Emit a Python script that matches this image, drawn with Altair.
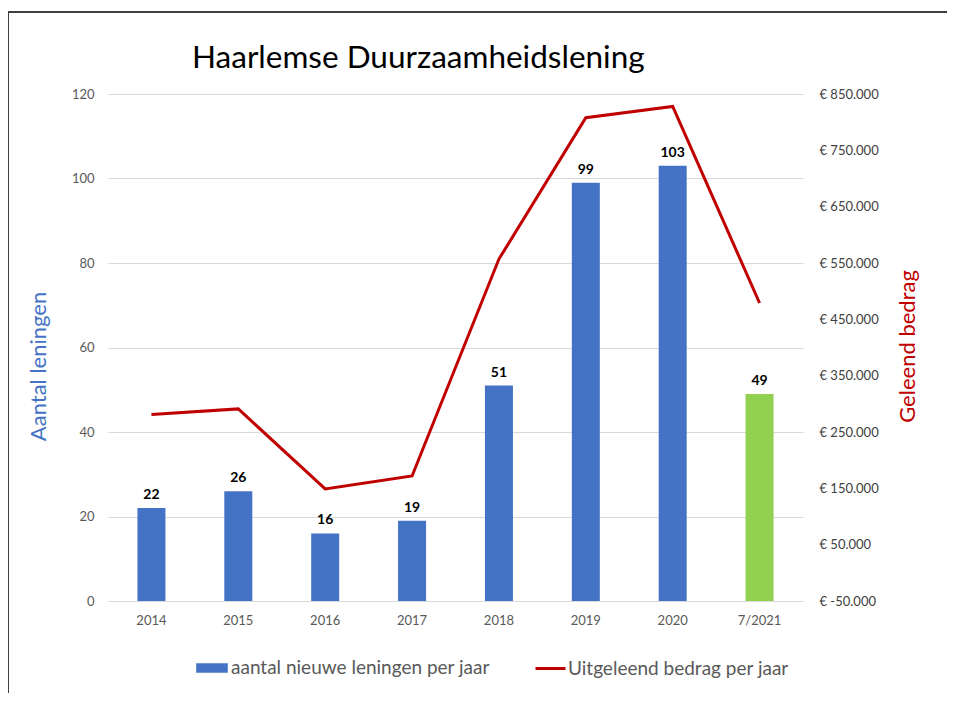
import altair as alt
import pandas as pd

jaren = ["2014", "2015", "2016", "2017", "2018", "2019", "2020", "7/2021"]
aantal = [22, 26, 16, 19, 51, 99, 103, 49]
bedrag = [281000, 291000, 149000, 172000, 557000, 808000, 828000, 479000]

serie_bar = "aantal nieuwe leningen per jaar"
serie_lijn = "Uitgeleend bedrag per jaar"

bar_df = pd.DataFrame({"jaar": jaren, "aantal": aantal, "serie": serie_bar})
lijn_df = pd.DataFrame({"jaar": jaren, "bedrag": bedrag, "serie": serie_lijn})

FONT = "Lato"
W, H = 695, 507

x_enc = alt.X("jaar:N", sort=jaren, title=None,
              axis=alt.Axis(labelAngle=0, labelFontSize=13, labelColor="#595959",
                            labelFont=FONT, ticks=False, domainColor="#d9d9d9",
                            labelPadding=13, grid=False))

legend_bar = alt.Legend(
    orient="none", legendX=88, legendY=558, title=None,
    labelFontSize=19, labelColor="#595959", labelFont=FONT, symbolSize=1000,
    symbolType="M-1,-0.3H1V0.3H-1Z", symbolStrokeWidth=0, labelOffset=3,
    labelLimit=400, symbolOpacity=1,
)
legend_lijn = alt.Legend(
    orient="none", legendX=426, legendY=558, title=None,
    labelFontSize=19, labelColor="#595959", labelFont=FONT, symbolSize=900,
    symbolType="stroke", symbolStrokeWidth=3, labelOffset=1, labelLimit=400,
    symbolOpacity=1,
)

bars = alt.Chart(bar_df).mark_bar(size=28).encode(
    x=x_enc,
    y=alt.Y("aantal:Q", scale=alt.Scale(domain=[0, 120]), title="Aantal leningen",
            axis=alt.Axis(orient="left", values=[0, 20, 40, 60, 80, 100, 120],
                          labelFontSize=13, labelColor="#595959", labelFont=FONT,
                          ticks=False, domain=False, labelPadding=14,
                          gridColor="#d9d9d9", titleColor="#4472C4", titleFontSize=22,
                          titleFont=FONT, titleFontWeight="normal",
                          titleX=-70, titleY=272, titleAngle=270,
                          titleAlign="center", titleBaseline="middle")),
    fill=alt.condition("datum.jaar === '7/2021'", alt.value("#92D050"),
                       alt.Fill("serie:N", scale=alt.Scale(domain=[serie_bar], range=["#4472C4"]),
                                legend=legend_bar)),
)

labels = alt.Chart(bar_df).mark_text(dy=-9, baseline="alphabetic", fontSize=14,
                                     fontWeight="bold", font=FONT, color="#000000").encode(
    x=alt.X("jaar:N", sort=jaren),
    y=alt.Y("aantal:Q"),
    text="aantal:Q",
)

lijn = alt.Chart(lijn_df).mark_line(strokeWidth=3).encode(
    x=alt.X("jaar:N", sort=jaren),
    y=alt.Y("bedrag:Q", scale=alt.Scale(domain=[-50000, 850000]), title="Geleend bedrag",
            axis=alt.Axis(orient="right",
                          values=[-50000, 50000, 150000, 250000, 350000, 450000, 550000, 650000, 750000, 850000],
                          labelExpr="'€ ' + (datum.value < 0 ? '-' : '') + replace(format(abs(datum.value), ','), ',', '.')",
                          labelFontSize=13, labelColor="#404040", labelFont=FONT,
                          ticks=False, domain=False, grid=False, labelPadding=16,
                          titleColor="#C00000", titleFontSize=22, titleFont=FONT,
                          titleFontWeight="normal", titleX=104, titleY=252, titleAngle=270,
                          titleAlign="center", titleBaseline="middle")),
    stroke=alt.Stroke("serie:N", scale=alt.Scale(domain=[serie_lijn], range=["#C00000"]),
                      legend=legend_lijn),
)

rand_df = pd.DataFrame({"k": [0]})
rand_links = alt.Chart(rand_df).mark_rule(color="#404040", strokeWidth=2).encode(
    x=alt.value(-100), y=alt.value(-82), y2=alt.value(700))
rand_boven = alt.Chart(rand_df).mark_rule(color="#404040", strokeWidth=2).encode(
    x=alt.value(-101), x2=alt.value(900), y=alt.value(-82))

chart = alt.layer(
    alt.layer(bars, labels),
    lijn,
    rand_links,
    rand_boven,
).resolve_scale(y="independent").properties(
    width=W, height=H,
    padding={"left": 100, "top": 86, "right": 144, "bottom": 92},
    autosize=alt.AutoSizeParams(type="none"),
    title=alt.TitleParams("Haarlemse Duurzaamheidslening", anchor="start", dx=186,
                          offset=-63, fontSize=31.5, font=FONT, fontWeight="normal",
                          color="#000000"),
).configure_view(stroke=None)

chart.save("out.html", embed_options={"renderer": "svg", "actions": False})
